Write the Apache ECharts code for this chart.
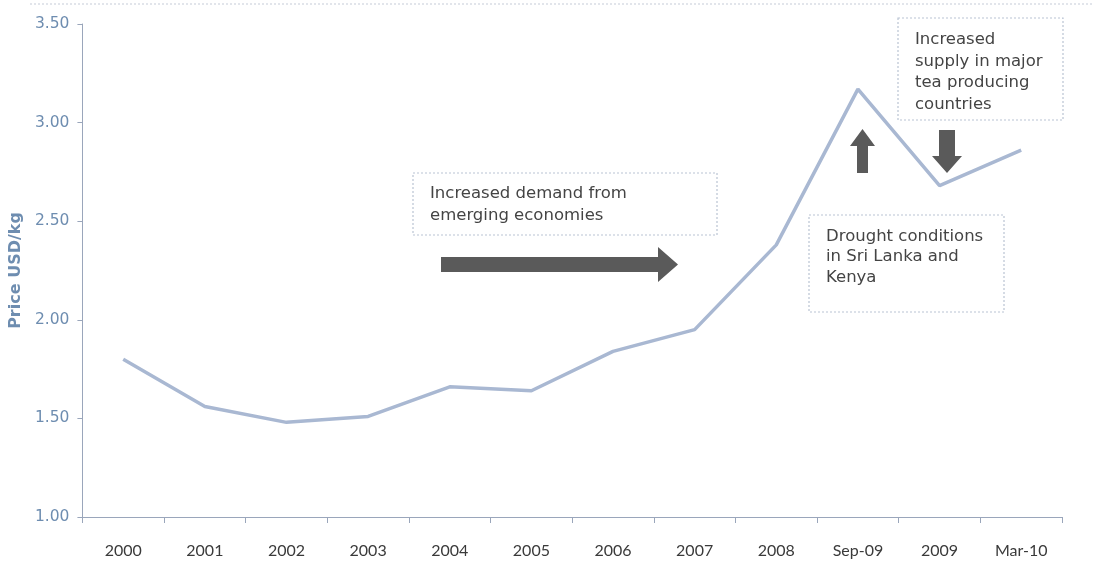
<!DOCTYPE html>
<html><head><meta charset="utf-8">
<script src="https://cdn.jsdelivr.net/npm/echarts@6/dist/echarts.min.js"></script>
<style>html,body{margin:0;padding:0;background:#fff}#c{width:1094px;height:565px}</style>
</head><body><div id="c"></div>
<script>
var categories = ['2000','2001','2002','2003','2004','2005','2006','2007','2008','Sep-09','2009','Mar-10'];
var prices = [1.80, 1.56, 1.48, 1.51, 1.66, 1.64, 1.84, 1.95, 2.38, 3.17, 2.68, 2.86];
var yTicks = [1.0, 1.5, 2.0, 2.5, 3.0, 3.5];

var chart = echarts.init(document.getElementById('c'), null, {renderer:'canvas'});
var boxStyle = {fill:'#fff', stroke:'#b9c3d3', lineWidth:1.2, lineDash:[2,2]};
var txtStyle = {fill:'#444', font:'16.5px "DejaVu Sans", Verdana, sans-serif', lineHeight:21.5};
var arrowCol = '#5a5a5a';
chart.setOption({
  animation:false,
  backgroundColor:'#fff',
  grid:{left:81, right:32, top:24, bottom:48},
  xAxis:{
    type:'category', data:categories, boundaryGap:true,
    axisLine:{lineStyle:{color:'#9aa6bb', width:1}},
    axisTick:{show:true, alignWithLabel:false, length:6, lineStyle:{color:'#9aa6bb'}},
    axisLabel:{color:'#3a3a3a', fontSize:16, fontFamily:'Lato, "Open Sans", sans-serif', margin:26}
  },
  yAxis:{
    type:'value', min:1.0, max:3.5, interval:0.5,
    name:'Price USD/kg', nameLocation:'middle', nameGap:52,
    nameTextStyle:{color:'#6e8db0', fontWeight:'bold', fontSize:16, fontFamily:'"DejaVu Sans", sans-serif'},
    axisLine:{show:true, lineStyle:{color:'#9aa6bb', width:1}},
    axisTick:{show:true, length:5, lineStyle:{color:'#9aa6bb'}},
    splitLine:{show:false},
    axisLabel:{color:'#6e8db0', fontSize:15.5, fontFamily:'"DejaVu Sans", sans-serif', margin:13,
      formatter:function(v){return v.toFixed(2);}}
  },
  series:[{
    type:'line', data:prices, symbol:'none', smooth:false,
    lineStyle:{color:'#a9b8d2', width:3.5}
  }],
  graphic:[
    {type:'line', shape:{x1:30,y1:4,x2:1094,y2:4}, style:{stroke:'#c5ccd8', lineWidth:1, lineDash:[2,2]}},
    {type:'rect', shape:{x:413,y:173,width:304,height:62}, style:boxStyle},
    {type:'text', left:430, top:183, style:Object.assign({text:'Increased demand from\nemerging economies'}, txtStyle)},
    {type:'polygon', shape:{points:[[441,257],[658,257],[658,247],[678,264.5],[658,282],[658,272],[441,272]]}, style:{fill:arrowCol}},
    {type:'rect', shape:{x:898,y:18,width:165,height:102}, style:boxStyle},
    {type:'text', left:915, top:29, style:Object.assign({text:'Increased\nsupply in major\ntea producing\ncountries'}, txtStyle)},
    {type:'polygon', shape:{points:[[862.5,129],[875,146],[868,146],[868,173],[857,173],[857,146],[850,146]]}, style:{fill:arrowCol}},
    {type:'polygon', shape:{points:[[939,130],[955,130],[955,156],[962,156],[947,173],[932,156],[939,156]]}, style:{fill:arrowCol}},
    {type:'rect', shape:{x:809,y:215,width:195,height:97}, style:boxStyle},
    {type:'text', left:826, top:226, style:Object.assign({text:'Drought conditions\nin Sri Lanka and\nKenya'}, txtStyle, {lineHeight:20.5})}
  ]
});
</script></body></html>
